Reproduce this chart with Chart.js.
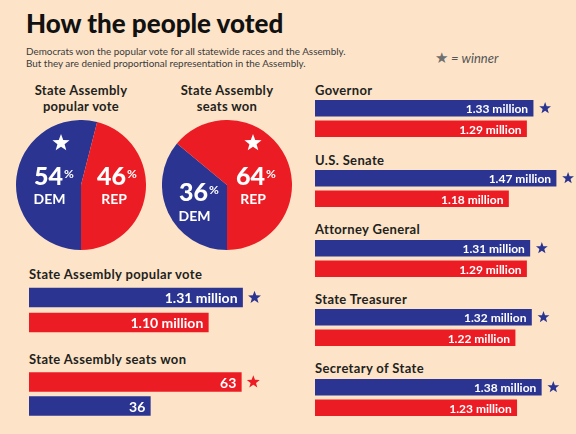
<!DOCTYPE html>
<html>
<head>
<meta charset="utf-8">
<script src="https://cdn.jsdelivr.net/npm/chart.js@4.4.1/dist/chart.umd.min.js"></script>
<style>
  body { margin: 0; background: #fde4c9; width: 576px; height: 434px; overflow: hidden; position: relative; font-family: Lato, "Open Sans", sans-serif; color: #231f20; }
  .t { position: absolute; white-space: nowrap; line-height: 1; }
  #title { left: 26px; top: 10px; font-size: 26px; font-weight: 900; color: #111; }
  .sub { left: 26px; font-size: 9.9px; color: #3a3a3a; }
  #key { left: 435px; top: 50px; font-size: 13px; font-style: italic; color: #555; }
  #key span { font-style: normal; color: #6f6f6f; font-size: 15px; }
  .head { font-size: 13px; font-weight: 700; letter-spacing: 0.35px; }
  .ptitle { font-size: 13px; font-weight: 700; text-align: center; width: 150px; line-height: 16px; letter-spacing: 0.3px; }
  canvas { position: absolute; }
</style>
</head>
<body>
<div class="t" id="title">How the people voted</div>
<div class="t sub" style="top:47px">Democrats won the popular vote for all statewide races and the Assembly.</div>
<div class="t sub" style="top:59px">But they are denied proportional representation in the Assembly.</div>
<div class="t" id="key"><span>★</span> = winner</div>

<div class="t ptitle" style="left:6px;top:82px">State Assembly<br>popular vote</div>
<div class="t ptitle" style="left:152px;top:82px">State Assembly<br>seats won</div>
<canvas id="pieVote" width="130" height="130" style="left:16px;top:120px"></canvas>
<canvas id="pieSeats" width="130" height="130" style="left:162px;top:120px"></canvas>

<div class="t head" style="left:29px;top:268px">State Assembly popular vote</div>
<canvas id="barVote" width="250" height="50" style="left:29px;top:285px"></canvas>
<div class="t head" style="left:29px;top:353px">State Assembly seats won</div>
<canvas id="barSeats" width="250" height="48" style="left:29px;top:370px"></canvas>

<div id="races"></div>

<script>
const BLUE = '#2b3591';
const RED = '#ec1c24';

const parties = ['DEM', 'REP'];
const popularShare = [54, 46];
const seatShare = [36, 64];

const races = ['Governor', 'U.S. Senate', 'Attorney General', 'State Treasurer', 'Secretary of State'];
const demMillions = [1.33, 1.47, 1.31, 1.32, 1.38];
const repMillions = [1.29, 1.18, 1.29, 1.22, 1.23];

// assembly bars, in drawing order
const assemblyVoteParties = ['DEM', 'REP'];
const assemblyVoteMillions = [1.31, 1.10];
const assemblySeatParties = ['REP', 'DEM'];
const assemblySeats = [63, 36];

function star(ctx, x, y, r, color) {
  ctx.beginPath();
  for (let i = 0; i < 10; i++) {
    const a = -Math.PI / 2 + i * Math.PI / 5;
    const rr = i % 2 ? r * 0.42 : r;
    ctx.lineTo(x + rr * Math.cos(a), y + rr * Math.sin(a));
  }
  ctx.closePath();
  ctx.fillStyle = color;
  ctx.fill();
}

// where the labels sit inside each pie, offsets from the centre
const pieSpots = {
  pieVote: { num: [[-18, 0], [45, 0]], name: [[-31.5, 19], [33, 19]], star: [-20, -42] },
  pieSeats: { num: [[-19, 16], [38, 0]], name: [[-32.5, 36], [26, 19]], star: [26, -42] }
};

const pieText = {
  id: 'pieText',
  afterDatasetsDraw(chart) {
    const ctx = chart.ctx;
    const arc = chart.getDatasetMeta(0).data[0];
    const vals = chart.data.datasets[0].data;
    const spot = pieSpots[chart.canvas.id];
    ctx.save();
    ctx.fillStyle = '#fff';
    ctx.textBaseline = 'alphabetic';
    vals.forEach((v, i) => {
      const nx = arc.x + spot.num[i][0], ny = arc.y + spot.num[i][1];
      ctx.font = '900 25px Lato';
      ctx.textAlign = 'right';
      ctx.fillText(String(v), nx, ny);
      ctx.font = '700 12px Lato';
      ctx.textAlign = 'left';
      ctx.fillText('%', nx + 1, ny - 7);
      ctx.font = '700 14px Lato';
      ctx.textAlign = 'center';
      ctx.fillText(chart.data.labels[i], arc.x + spot.name[i][0], arc.y + spot.name[i][1]);
    });
    star(ctx, arc.x + spot.star[0], arc.y + spot.star[1], 9, '#fff');
    ctx.restore();
  }
};

function pie(id, shares) {
  new Chart(document.getElementById(id), {
    type: 'pie',
    data: {
      labels: parties,
      datasets: [{ data: shares, backgroundColor: [BLUE, RED], borderWidth: 0 }]
    },
    options: {
      responsive: false,
      animation: false,
      rotation: 180,
      plugins: { legend: { display: false }, tooltip: { enabled: false } }
    },
    plugins: [pieText]
  });
}

pie('pieVote', popularShare);
pie('pieSeats', seatShare);

const barText = {
  id: 'barText',
  afterDatasetsDraw(chart, args, opts) {
    const ctx = chart.ctx;
    const ds = chart.data.datasets[0];
    const bars = chart.getDatasetMeta(0).data;
    const best = Math.max(...ds.data);
    ctx.save();
    bars.forEach((bar, i) => {
      const v = ds.data[i];
      ctx.font = opts.font;
      ctx.fillStyle = '#fff';
      ctx.textAlign = 'right';
      ctx.textBaseline = 'middle';
      const txt = opts.decimals ? v.toFixed(opts.decimals) + ' million' : String(v);
      ctx.fillText(txt, bar.x - opts.pad, bar.y + 1);
      if (v === best) star(ctx, bar.x + opts.gap, bar.y, opts.star, ds.backgroundColor[i]);
    });
    ctx.restore();
  }
};

function bars(canvas, labels, values, max, thick, font, decimals, starR) {
  new Chart(canvas, {
    type: 'bar',
    data: {
      labels: labels,
      datasets: [{
        data: values,
        backgroundColor: labels.map(p => p === 'DEM' ? BLUE : RED),
        barThickness: thick
      }]
    },
    options: {
      indexAxis: 'y',
      responsive: false,
      animation: false,
      layout: { padding: 0 },
      scales: {
        x: { display: false, min: 0, max: max },
        y: { display: false }
      },
      plugins: {
        legend: { display: false },
        tooltip: { enabled: false },
        barText: { font: font, decimals: decimals, pad: 5, gap: 12, star: starR }
      }
    },
    plugins: [barText]
  });
}

bars(document.getElementById('barVote'), assemblyVoteParties, assemblyVoteMillions, 250 / 163, 19, '700 14px Lato', 2, 6.8);
bars(document.getElementById('barSeats'), assemblySeatParties, assemblySeats, 250 / 3.37, 19, '700 14px Lato', 0, 6.8);

const holder = document.getElementById('races');
races.forEach((race, i) => {
  const h = document.createElement('div');
  h.className = 't head';
  h.style.left = '315px';
  h.style.top = (84 + i * 69.6) + 'px';
  h.textContent = race;
  holder.appendChild(h);
  const c = document.createElement('canvas');
  c.width = 261;
  c.height = 41;
  c.style.left = '315px';
  c.style.top = Math.round(98 + i * 69.75) + 'px';
  holder.appendChild(c);
  bars(c, parties, [demMillions[i], repMillions[i]], 261 / 164, 16, '700 12px Lato', 2, 6.2);
});
</script>
</body>
</html>
